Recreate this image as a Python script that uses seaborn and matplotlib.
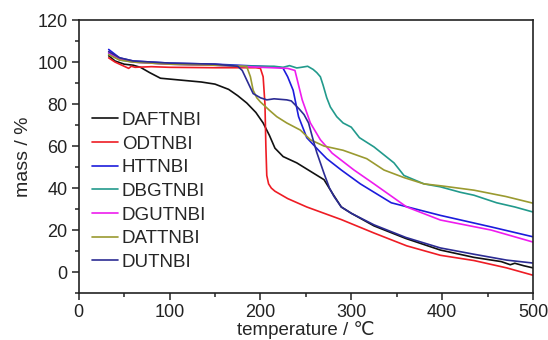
"""TGA curves of the seven TNBI salts."""

import matplotlib
matplotlib.use("Agg")
import matplotlib.pyplot as plt
from matplotlib.ticker import MultipleLocator
import pandas as pd
import seaborn as sns

SAMPLES = ["DAFTNBI", "ODTNBI", "HTTNBI", "DBGTNBI", "DGUTNBI", "DATTNBI", "DUTNBI"]
COLORS = ["#111111", "#ee1c24", "#1c1cdc", "#229a8c", "#ee1cee", "#9a9a30", "#2c2c94"]

daft_t = [33, 40, 50, 60, 68, 78, 90, 110, 135, 150, 165, 175, 185, 195, 203, 210, 216, 225,
          240, 255, 270, 280, 289, 300, 325, 360, 398, 435, 465, 475, 480, 490, 500]
daft_m = [103, 100.5, 99, 98.5, 97.5, 95, 92.3, 91.5, 90.5, 89.5, 87, 84, 80.5, 76, 71, 65, 59, 55,
          52, 48, 44, 37, 31, 28, 22, 16, 10.5, 7, 5, 3.5, 4.2, 3, 2]

od_t = [33, 40, 50, 55, 58, 62, 80, 100, 150, 195, 200, 203, 205, 206, 207, 209, 212, 216,
        230, 251, 289, 325, 361, 398, 435, 471, 500]
od_m = [102, 100, 98, 97, 98, 97.5, 97.8, 97.5, 97.3, 97.3, 97, 93, 80, 60, 46, 42, 40, 38.5,
        35, 31, 25, 18.6, 12.5, 8, 5.5, 2, -1.5]

ht_t = [33, 45, 60, 100, 150, 200, 220, 225, 230, 236, 242, 251, 264, 273, 289, 310, 344, 398, 454, 500]
ht_m = [106, 102, 100.5, 99.5, 99, 98, 97.5, 97, 93, 86.6, 74, 64, 58, 54, 48.6, 42, 33, 27, 21.5, 16.8]

dbg_t = [33, 45, 60, 100, 150, 200, 215, 225, 232, 240, 245, 252, 258, 262, 266, 269, 273, 277,
         284, 291, 300, 309, 325, 347, 358, 380, 398, 420, 435, 460, 480, 500]
dbg_m = [104, 101, 100, 99, 98.5, 98, 98, 97.5, 98.3, 97.2, 97.5, 98, 96.5, 95, 93, 89, 83, 78.6,
         74, 71, 69, 64, 59.6, 52, 46, 42, 40.6, 38, 36.6, 33, 31, 28.6]

dgu_t = [33, 45, 60, 100, 150, 200, 230, 238, 246, 255, 266, 279, 303, 325, 361, 398, 454, 500]
dgu_m = [104.5, 101.5, 100, 99, 98.5, 97.5, 97, 96, 82, 71, 63, 56.6, 48.6, 42, 31, 24.8, 20, 14.3]

datt_t = [33, 45, 60, 100, 150, 180, 185, 189, 192, 196, 200, 210, 218, 229, 244, 255, 270,
          291, 317, 336, 358, 380, 400, 435, 470, 500]
datt_m = [103.5, 101, 100, 99, 98.5, 98, 97.8, 93, 86.6, 83, 81, 77, 74, 71, 67.6, 63, 60,
          58, 54, 48.6, 45, 42, 41, 39, 36, 32.8]

du_t = [33, 45, 60, 100, 150, 175, 180, 185, 192, 200, 207, 215, 229, 234, 243, 248, 253, 258,
        262, 266, 270, 276, 281, 289, 300, 325, 360, 398, 435, 471, 500]
du_m = [105, 102, 100.5, 99.5, 99, 98, 96, 91.4, 85, 83, 82, 82.5, 82, 81.5, 77.5, 75, 71, 63,
        57, 52, 47, 40, 36, 31, 28, 22.5, 16.5, 11.5, 8.5, 5.7, 4.3]

CURVES = [(daft_t, daft_m), (od_t, od_m), (ht_t, ht_m), (dbg_t, dbg_m),
          (dgu_t, dgu_m), (datt_t, datt_m), (du_t, du_m)]

frames = []
for name, (t, m) in zip(SAMPLES, CURVES):
    frames.append(pd.DataFrame({"temperature": t, "mass": m, "sample": name}))
df = pd.concat(frames, ignore_index=True)

sns.set_theme(style="ticks")
plt.rcParams["font.family"] = ["Liberation Sans", "DejaVu Sans"]

fig, ax = plt.subplots(figsize=(5.48, 3.40), dpi=100)
fig.subplots_adjust(left=0.1436, right=0.9726, top=0.941, bottom=0.138)

sns.lineplot(data=df, x="temperature", y="mass", hue="sample", hue_order=SAMPLES,
             palette=dict(zip(SAMPLES, COLORS)), estimator=None, linewidth=1.2, ax=ax)

ax.set_xlim(0, 500)
ax.set_ylim(-10, 120)
ax.xaxis.set_major_locator(MultipleLocator(100))
ax.xaxis.set_minor_locator(MultipleLocator(50))
ax.yaxis.set_major_locator(MultipleLocator(20))
ax.yaxis.set_minor_locator(MultipleLocator(10))
ax.tick_params(which="major", direction="out", length=5, width=1.1, labelsize=13, pad=3,
               top=False, right=False, colors="#222222")
ax.tick_params(which="minor", direction="out", length=3, width=1.1, top=False, right=False,
               colors="#222222")
for sp in ax.spines.values():
    sp.set_visible(True)
    sp.set_linewidth(1.2)
    sp.set_color("#222222")

ax.set_xlabel("temperature / ℃", fontsize=13.5, labelpad=0)
ax.set_ylabel("mass / %", fontsize=14, labelpad=4)

ax.legend(loc="center left", bbox_to_anchor=(0.012, 0.3725), frameon=False, fontsize=13.5,
          handlelength=1.4, handletextpad=0.2, labelspacing=0.35, borderaxespad=0.0)

fig.savefig("out.png", dpi=100)
